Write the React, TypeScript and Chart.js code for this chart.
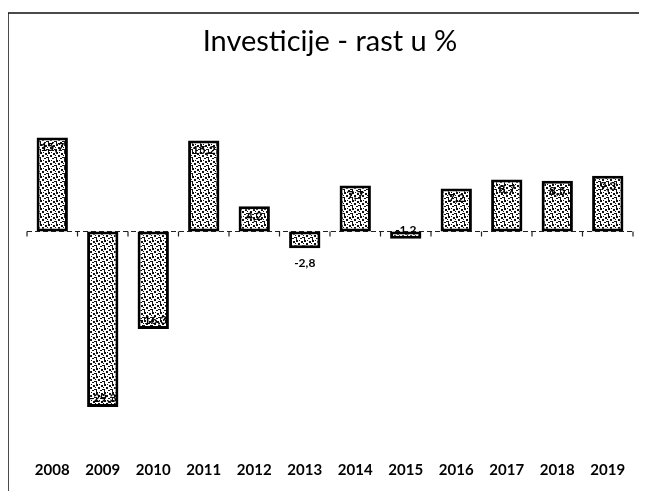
import React, { useEffect, useRef } from "react";
import { Chart, registerables } from "chart.js";

Chart.register(...registerables);

const categories = ["2008", "2009", "2010", "2011", "2012", "2013", "2014", "2015", "2016", "2017", "2018", "2019"];
const growth = [15.7, -29.3, -16.3, 15.2, 4.2, -2.8, 7.7, -1.2, 7.2, 8.7, 8.5, 9.3];
const titleText = "Investicije - rast u %";

function makePattern(): CanvasPattern | string {
  const c = document.createElement("canvas");
  c.width = 8;
  c.height = 8;
  const g = c.getContext("2d");
  if (!g) return "#999999";
  g.fillStyle = "#ffffff";
  g.fillRect(0, 0, 8, 8);
  g.fillStyle = "#111111";
  const dots = [
    [0, 0, 2, 2], [5, 1, 2, 2], [2, 3, 2, 2], [6, 5, 2, 1], [0, 5, 1, 3], [4, 6, 2, 1], [3, 0, 1, 1], [7, 3, 1, 1],
  ];
  dots.forEach(([x, y, w, h]) => g.fillRect(x, y, w, h));
  const p = g.createPattern(c, "repeat");
  return p || "#999999";
}

const framePlugin = {
  id: "frameAndZero",
  beforeDatasetsDraw(chart: any) {
    const { ctx, chartArea, scales } = chart;
    ctx.save();
    ctx.strokeStyle = "#111";
    ctx.lineWidth = 1.5;
    ctx.beginPath();
    ctx.moveTo(8, chart.height);
    ctx.lineTo(8, 13);
    ctx.lineTo(chart.width - 1, 13);
    ctx.stroke();
    const y0 = scales.y.getPixelForValue(0);
    ctx.strokeStyle = "#222";
    ctx.lineWidth = 1;
    ctx.setLineDash([5, 3]);
    ctx.beginPath();
    ctx.moveTo(chartArea.left, y0);
    ctx.lineTo(chartArea.right, y0);
    ctx.stroke();
    ctx.setLineDash([]);
    const n = categories.length;
    const step = (chartArea.right - chartArea.left) / n;
    ctx.lineWidth = 1.2;
    ctx.beginPath();
    for (let i = 0; i <= n; i++) {
      const x = chartArea.left + i * step;
      ctx.moveTo(x, y0);
      ctx.lineTo(x, y0 + 5);
    }
    ctx.stroke();
    ctx.restore();
  },
};

const labelPlugin = {
  id: "valueLabels",
  afterDatasetsDraw(chart: any) {
    const { ctx } = chart;
    const meta = chart.getDatasetMeta(0);
    ctx.save();
    ctx.font = "bold 12px Lato, 'DejaVu Sans', sans-serif";
    ctx.textAlign = "center";
    ctx.textBaseline = "middle";
    ctx.fillStyle = "#000";
    meta.data.forEach((bar: any, i: number) => {
      const v = growth[i];
      const txt = v.toFixed(1).replace(".", ",");
      const h = Math.abs(bar.base - bar.y);
      let y: number;
      if (Math.abs(v) >= 2 && h < 22) {
        y = v < 0 ? bar.y + 15 : bar.y - 10;
      } else {
        y = v < 0 ? bar.y - 9 : bar.y + 10;
      }
      ctx.fillText(txt, bar.x, y);
    });
    ctx.restore();
  },
};

export default function App() {
  const ref = useRef<HTMLCanvasElement | null>(null);
  useEffect(() => {
    if (!ref.current) return;
    const pattern = makePattern();
    const chart = new Chart(ref.current, {
      type: "bar",
      data: {
        labels: categories,
        datasets: [
          {
            data: growth,
            backgroundColor: pattern as any,
            borderColor: "#000",
            borderWidth: 3,
            borderSkipped: false,
            barPercentage: 0.62,
            categoryPercentage: 1,
          },
        ],
      },
      options: {
        animation: false,
        responsive: false,
        maintainAspectRatio: false,
        layout: { padding: { left: 27, right: 14, top: 14, bottom: 6 } },
        plugins: {
          legend: { display: false },
          tooltip: { enabled: false },
          title: {
            display: true,
            text: titleText,
            color: "#000",
            font: { family: "Lato, 'Open Sans', sans-serif", size: 29, weight: "normal" },
            padding: { top: 10, bottom: 53 },
          },
        },
        scales: {
          x: {
            grid: { display: false, drawTicks: false },
            border: { display: false },
            ticks: {
              color: "#000",
              padding: 14,
              font: { family: "Lato, 'DejaVu Sans', sans-serif", size: 15, weight: "bold" },
              maxRotation: 0,
            },
          },
          y: {
            display: false,
            min: -36,
            max: 20,
          },
        },
      },
      plugins: [framePlugin, labelPlugin],
    });
    return () => chart.destroy();
  }, []);
  return (
    <div style={{ margin: -8, width: 647, height: 499, background: "#fff" }}>
      <canvas ref={ref} width={647} height={499} style={{ display: "block", width: 647, height: 499 }} />
    </div>
  );
}
